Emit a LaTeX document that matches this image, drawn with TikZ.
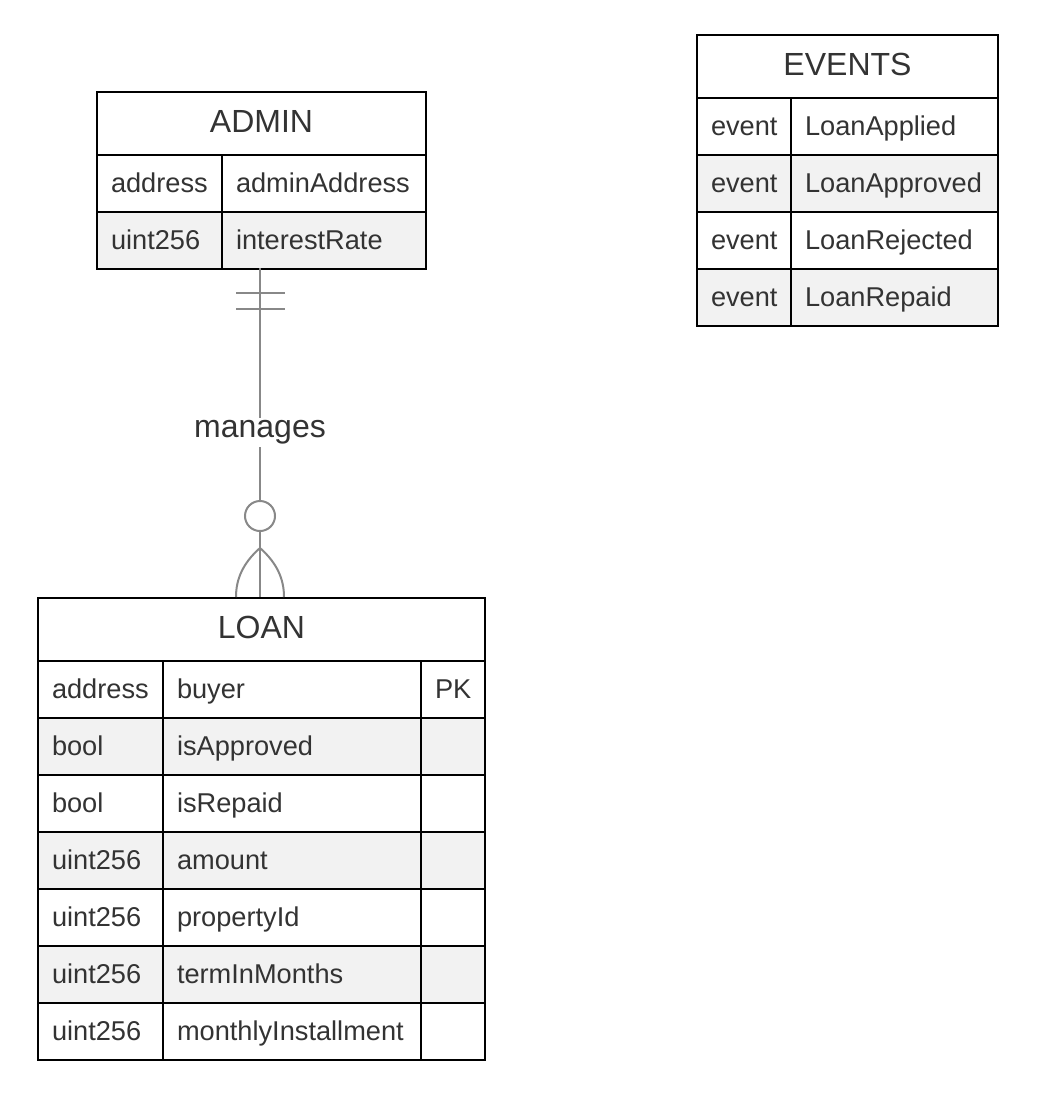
\documentclass[tikz,border=0pt]{standalone}
\usepackage{fontspec}
\setmainfont{Liberation Sans}
\usetikzlibrary{positioning}
\definecolor{txt}{HTML}{333333}
\definecolor{rowgray}{HTML}{F2F2F2}
\definecolor{relgray}{HTML}{888888}
\tikzstyle{header}=[draw, line width=1pt, fill=white, anchor=north west, minimum height=31.5pt, inner sep=0pt, text height=12pt, text depth=3.5pt, text=txt, font=\fontsize{16}{19}\selectfont]
\tikzstyle{cell}=[draw, line width=1pt, anchor=north west, minimum height=28.5pt, inner xsep=7pt, inner ysep=0pt, text height=12pt, text depth=3pt, align=left, text=txt, font=\fontsize{13.6}{16}\selectfont]
\tikzstyle{rel} = [draw=relgray, line width=1pt]
\tikzstyle{rellabel} = [fill=white, inner sep=1.5pt, text=txt, font=\fontsize{16}{19}\selectfont]

\begin{document}
\begin{tikzpicture}[x=0.5pt, y=-0.5pt]
    \useasboundingbox (0,0) rectangle (1042,1098);

    % ADMIN
    \node[header, minimum width=164.5pt] (admin) at (96,91) {ADMIN};
    \foreach \i/\type/\name/\shade in {0/address/adminAddress/white, 1/uint256/interestRate/rowgray}
    {
        \node[cell, fill=\shade, text width=48.5pt] (admin-type-\i) at (96,154+57*\i) {\type};
        \node[cell, fill=\shade, text width=88pt] (admin-name-\i) at (221,154+57*\i) {\name};
    }

    % EVENTS
    \node[header, minimum width=150.5pt] (events) at (696,34) {EVENTS};
    \foreach \i/\name/\shade in {0/LoanApplied/white, 1/LoanApproved/rowgray, 2/LoanRejected/white, 3/LoanRepaid/rowgray}
    {
        \node[cell, fill=\shade, text width=33pt] (events-type-\i) at (696,97+57*\i) {event};
        \node[cell, fill=\shade, text width=89.5pt] (events-name-\i) at (790,97+57*\i) {\name};
    }

    % LOAN
    \node[header, minimum width=223.5pt] (loan) at (37,597) {LOAN};
    \foreach \i/\type/\name/\key/\shade in {0/address/buyer/PK/white, 1/bool/isApproved//rowgray, 2/bool/isRepaid//white, 3/uint256/amount//rowgray, 4/uint256/propertyId//white, 5/uint256/termInMonths//rowgray, 6/uint256/monthlyInstallment//white}
    {
        \node[cell, fill=\shade, text width=48.5pt] (loan-type-\i) at (37,660+57*\i) {\type};
        \node[cell, fill=\shade, text width=115pt] (loan-name-\i) at (162,660+57*\i) {\name};
        \node[cell, fill=\shade, text width=18pt] (loan-key-\i) at (420,660+57*\i) {\key};
    }

    % relation
    \coordinate (admin-s) at (260,268);
    \coordinate (loan-n) at (260,597);
    \draw[rel] (admin-s) -- node[rellabel] {manages} (loan-n);
    \draw[rel] ([shift={(-24,25)}]admin-s) -- ++(49,0);
    \draw[rel] ([shift={(-24,41)}]admin-s) -- ++(49,0);
    \draw[rel, fill=white] ([shift={(0,-81)}]loan-n) circle[radius=7.5pt];
    \draw[rel] ([shift={(0,-49)}]loan-n) .. controls ([shift={(-17,-34)}]loan-n) and ([shift={(-24,-18)}]loan-n) .. ([shift={(-24,0)}]loan-n);
    \draw[rel] ([shift={(0,-49)}]loan-n) .. controls ([shift={(17,-34)}]loan-n) and ([shift={(24,-18)}]loan-n) .. ([shift={(24,0)}]loan-n);
\end{tikzpicture}
\end{document}
